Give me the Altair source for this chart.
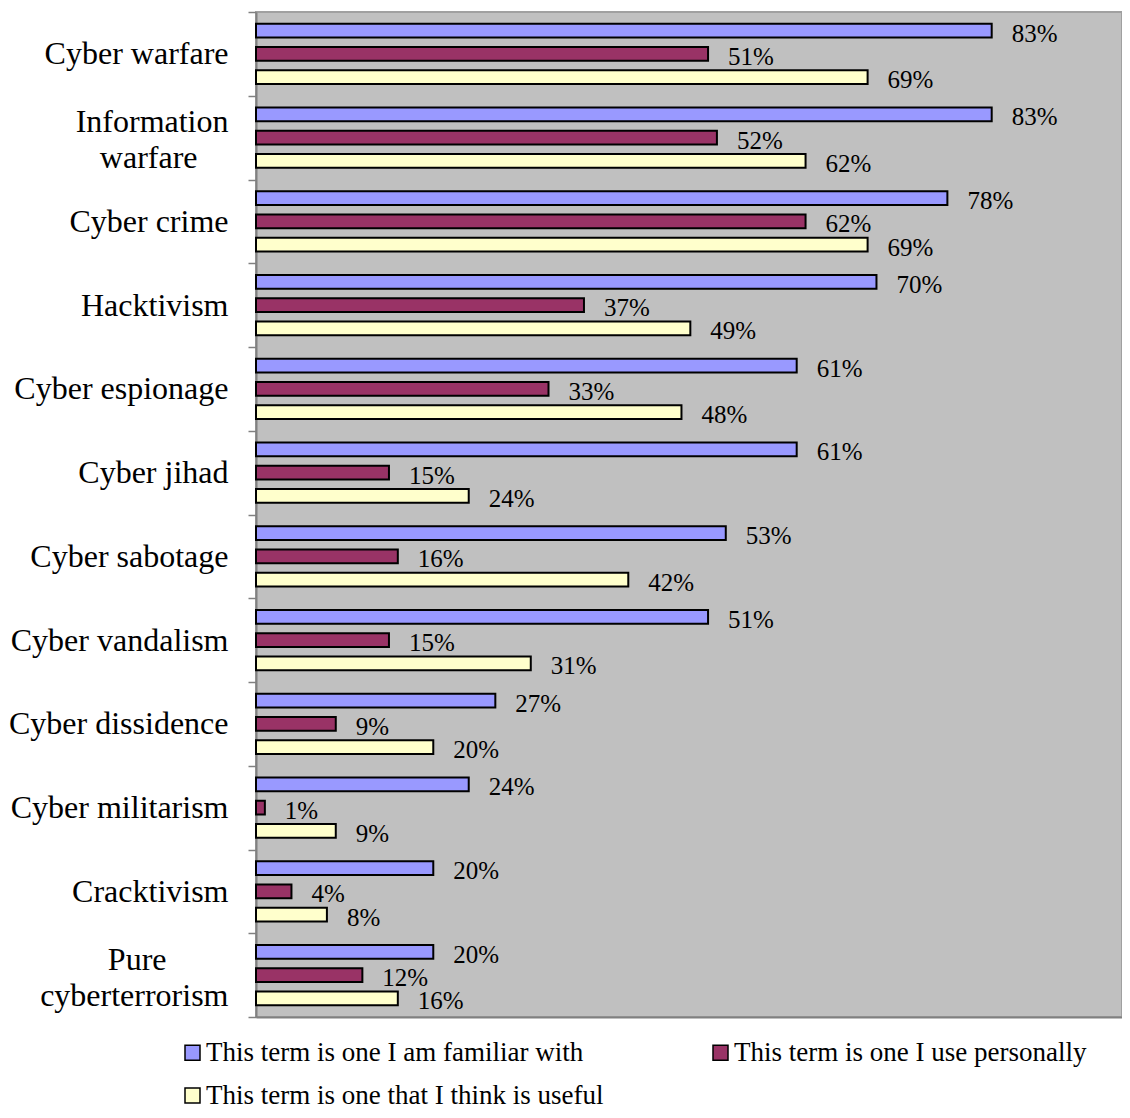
import altair as alt
import pandas as pd

categories = ["Cyber warfare", "Information warfare", "Cyber crime", "Hacktivism",
              "Cyber espionage", "Cyber jihad", "Cyber sabotage", "Cyber vandalism",
              "Cyber dissidence", "Cyber militarism", "Cracktivism", "Pure cyberterrorism"]
series = ["This term is one I am familiar with",
          "This term is one I use personally",
          "This term is one that I think is useful"]
familiar = [83, 83, 78, 70, 61, 61, 53, 51, 27, 24, 20, 20]
use_personally = [51, 52, 62, 37, 33, 15, 16, 15, 9, 1, 4, 12]
useful = [69, 62, 69, 49, 48, 24, 42, 31, 20, 9, 8, 16]
colors = ["#9999FF", "#993366", "#FFFFCC"]

rows = []
for i, c in enumerate(categories):
    for s, vals in zip(series, [familiar, use_personally, useful]):
        rows.append({"term": c, "series": s, "value": vals[i], "label": f"{vals[i]}%"})
df = pd.DataFrame(rows)

# legend is filled column by column: put the third series second
legend_order = [series[0], series[2], series[1]]
legend_colors = [colors[0], colors[2], colors[1]]

FONT = "Liberation Serif"
BL = "\u2800"
NB = "\u00a0"
label_expr = (
    "datum.value == 'Information warfare' ? ['Information', 'warfare" + NB + BL + "'] : "
    "datum.value == 'Pure cyberterrorism' ? ['Pure" + NB * 2 + BL * 2 + "', 'cyberterrorism'] : datum.value"
)
two_line = "datum.value == 'Information warfare' || datum.value == 'Pure cyberterrorism'"

y = alt.Y("term:N", sort=categories,
          scale=alt.Scale(paddingInner=0, paddingOuter=0),
          axis=alt.Axis(title=None, labelFont=FONT, labelFontSize=32, labelColor="black",
                        labelPadding=20, labelLimit=400, tickBand="extent", tickSize=8,
                        tickColor="#808080", tickWidth=1.5, domainColor="#808080",
                        domainWidth=2, labelExpr=label_expr, labelLineHeight=36,
                        labelOffset={"condition": {"test": two_line, "value": -16}, "value": 0}))
yoff = alt.YOffset("series:N", sort=series,
                   scale=alt.Scale(paddingInner=0.4, paddingOuter=0.5))
x = alt.X("value:Q", scale=alt.Scale(domain=[0, 97.7], nice=False),
          axis=alt.Axis(title=None, labels=False, ticks=False, grid=False,
                        domainColor="#808080", domainWidth=2))

bars = alt.Chart(df).mark_bar(stroke="black", strokeWidth=2).encode(
    x=x, y=y, yOffset=yoff,
    color=alt.Color("series:N",
                    scale=alt.Scale(domain=legend_order, range=legend_colors),
                    legend=alt.Legend(title=None, orient="none", legendX=-77, legendY=1027,
                                      columns=2, symbolType="square", symbolSize=225,
                                      symbolStrokeColor="black", symbolStrokeWidth=1.5,
                                      labelFont=FONT, labelFontSize=27, labelColor="black",
                                      labelLimit=700, labelOffset=0, columnPadding=103,
                                      rowPadding=15, padding=0))
)

texts = alt.Chart(df).mark_text(align="left", baseline="middle", dx=20, dy=3,
                                font=FONT, fontSize=25, color="black").encode(
    x=x, y=y, yOffset=yoff, text="label:N"
)

chart = alt.layer(bars, texts).properties(
    width=866, height=1005,
    autosize=alt.AutoSizeParams(type="none"),
    padding={"left": 248, "top": 4, "right": 0, "bottom": 93},
).configure_view(fill="#C0C0C0", stroke="#A0A0A0", strokeWidth=2)

chart.save("out.html", embed_options={"renderer": "svg", "actions": False})
